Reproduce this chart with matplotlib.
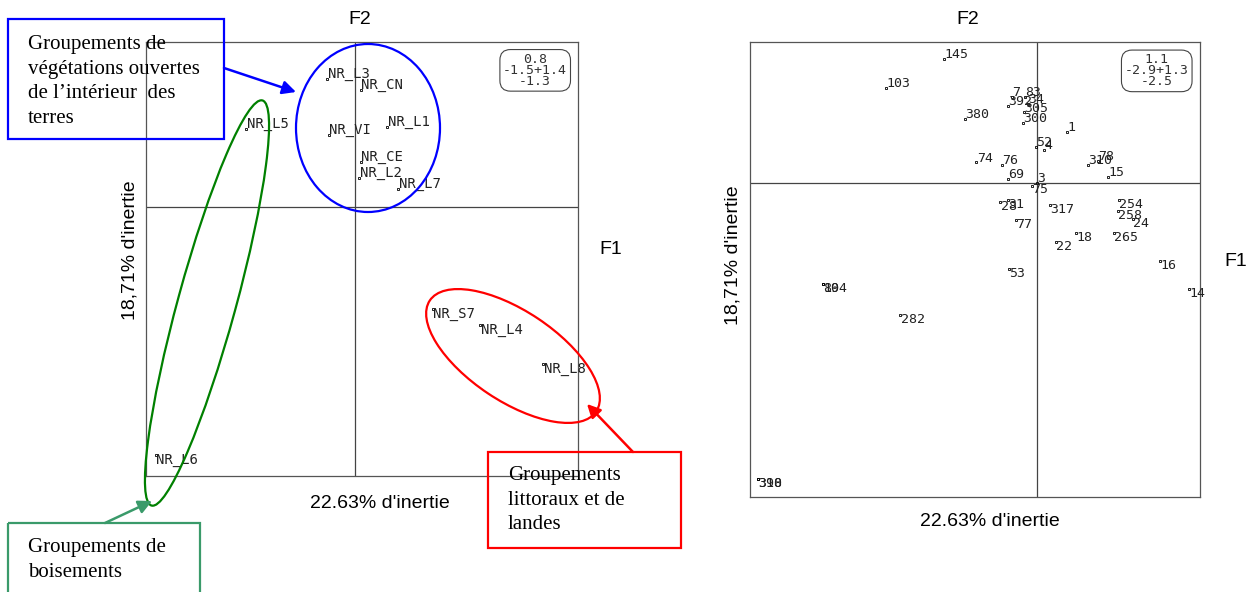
import matplotlib
matplotlib.use("Agg")
import matplotlib.pyplot as plt
from matplotlib.patches import Ellipse, Rectangle

# ---- donnees : plan factoriel F1 x F2 (releves) ----
releves = ["NR_L3", "NR_CN", "NR_L5", "NR_VI", "NR_L1", "NR_CE", "NR_L2",
           "NR_L7", "NR_S7", "NR_L4", "NR_L8", "NR_L6"]
rel_f1 = [-0.20, 0.04, -0.78, -0.19, 0.23, 0.04, 0.03, 0.31, 0.56, 0.90, 1.35, -1.43]
rel_f2 = [0.62, 0.57, 0.38, 0.35, 0.39, 0.22, 0.14, 0.09, -0.49, -0.57, -0.76, -1.20]
rel_box = ["0.8", "-1.5", "1.4", "-1.3"]

# ---- donnees : plan factoriel F1 x F2 (especes) ----
especes = ["145", "103", "7", "83", "392", "34", "305", "300", "380", "1", "52", "4",
           "74", "76", "78", "310", "15", "69", "3", "75", "28", "31", "317", "77",
           "254", "258", "24", "265", "18", "22", "16", "14", "53", "89", "104",
           "282", "390", "318"]
esp_f1 = [-0.94, -1.52, -0.25, -0.12, -0.29, -0.09, -0.13, -0.14, -0.73, 0.31, -0.01, 0.07,
          -0.61, -0.35, 0.62, 0.52, 0.72, -0.29, 0.0, -0.05, -0.37, -0.29, 0.13, -0.21,
          0.83, 0.82, 0.97, 0.78, 0.40, 0.19, 1.25, 1.54, -0.28, -2.16, -2.16,
          -1.38, -2.82, -2.82]
esp_f2 = [0.97, 0.74, 0.67, 0.67, 0.60, 0.62, 0.55, 0.47, 0.50, 0.40, 0.28, 0.26,
          0.16, 0.14, 0.17, 0.14, 0.05, 0.03, 0.0, -0.02, -0.15, -0.13, -0.17, -0.29,
          -0.13, -0.22, -0.28, -0.39, -0.39, -0.46, -0.61, -0.83, -0.67, -0.79, -0.79,
          -1.03, -2.31, -2.31]
esp_box = ["1.1", "-2.9", "1.3", "-2.5"]

xlabel = "22.63% d'inertie"
ylabel = "18,71% d'inertie"

W, H = 1253, 592
fig = plt.figure(figsize=(W / 100, H / 100), dpi=100)

sans = "Liberation Sans"
serif = "Liberation Serif"
mono = "DejaVu Sans Mono"


def plan(ax, noms, xs, ys, box, xlim, ylim, fs):
    ax.set_xlim(xlim)
    ax.set_ylim(ylim)
    ax.set_xticks([])
    ax.set_yticks([])
    for s in ax.spines.values():
        s.set_color("#555555")
        s.set_linewidth(0.9)
    ax.axhline(0, color="#444444", lw=0.9, zorder=1)
    ax.axvline(0, color="#444444", lw=0.9, zorder=1)
    ax.plot(xs, ys, ls="none", marker="s", ms=2, mfc="none", mec="black", mew=0.6, zorder=3)
    for n, x, y in zip(noms, xs, ys):
        if y >= 0:
            ax.annotate(n, (x, y), xytext=(0.3, -1.5), textcoords="offset points",
                        ha="left", va="bottom", fontsize=fs, family=mono,
                        color="#222222", annotation_clip=False)
        else:
            ax.annotate(n, (x, y), xytext=(0.3, 1.5), textcoords="offset points",
                        ha="left", va="top", fontsize=fs, family=mono,
                        color="#222222", annotation_clip=False)
    txt = "%s\n%s+%s\n%s" % (box[0], box[1], box[2], box[3])
    ax.text(0.975, 0.975, txt, transform=ax.transAxes, ha="right", va="top",
            multialignment="center", fontsize=9.5, family=mono, linespacing=0.8,
            color="#333333",
            bbox=dict(boxstyle="round,pad=0.25,rounding_size=0.8", fc="white",
                      ec="#444444", lw=0.8))


ax1 = fig.add_axes([146 / W, 1 - 476 / H, 432 / W, 434 / H])
plan(ax1, releves, rel_f1, rel_f2, rel_box, (-1.5, 1.6), (-1.3, 0.8), 10)

ax2 = fig.add_axes([750 / W, 1 - 497 / H, 450 / W, 455 / H])
plan(ax2, especes, esp_f1, esp_f2, esp_box, (-2.9, 1.65), (-2.45, 1.1), 9.5)

# ---- surcouche en pixels pour les annotations ----
ov = fig.add_axes([0, 0, 1, 1])
ov.set_xlim(0, W)
ov.set_ylim(H, 0)
ov.axis("off")
ov.patch.set_visible(False)

for x, y, t, rot in [(360, 20, "F2", 0), (611, 249, "F1", 0), (380, 503, xlabel, 0),
                     (130, 250, ylabel, 90), (968, 20, "F2", 0), (1236, 261, "F1", 0),
                     (990, 522, xlabel, 0), (733, 255, ylabel, 90)]:
    ov.text(x, y, t, ha="center", va="center", fontsize=14, family=sans, rotation=rot)

# ellipses des groupes
ov.add_patch(Ellipse((368, 128), 144, 168, fill=False, ec="#0000ff", lw=1.6))
ov.add_patch(Ellipse((513, 356), 200, 90, angle=33.7, fill=False, ec="#ff0000", lw=1.6))
ov.add_patch(Ellipse((207, 303), 420, 58, angle=105.3, fill=False, ec="#008000", lw=1.6))

# cadres de legende
boxes = [
    (8, 19, 216, 120, "#0000ff",
     "Groupements de\nvégétations ouvertes\nde l\u2019intérieur  des\nterres", 28, 35),
    (8, 523, 192, 80, "#3a9a6a", "Groupements de\nboisements", 28, 538),
    (488, 452, 193, 96, "#ff0000", "Groupements\nlittoraux et de\nlandes", 508, 466),
]
for x, y, w, h, c, t, tx, ty in boxes:
    ov.add_patch(Rectangle((x, y), w, h, fill=False, ec=c, lw=1.6, clip_on=False))
    ov.text(tx, ty, t, ha="left", va="top", fontsize=15, family=serif, linespacing=1.4)

arrows = [((224, 68), (296, 92), "#0000ff"),
          ((105, 523), (152, 501), "#3a9a6a"),
          ((633, 452), (587, 404), "#ff0000")]
for start, tip, c in arrows:
    ov.annotate("", xy=tip, xytext=start,
                arrowprops=dict(arrowstyle="-|>", color=c, lw=1.8, mutation_scale=20,
                                shrinkA=0, shrinkB=0))

fig.savefig("out.png", dpi=100)
